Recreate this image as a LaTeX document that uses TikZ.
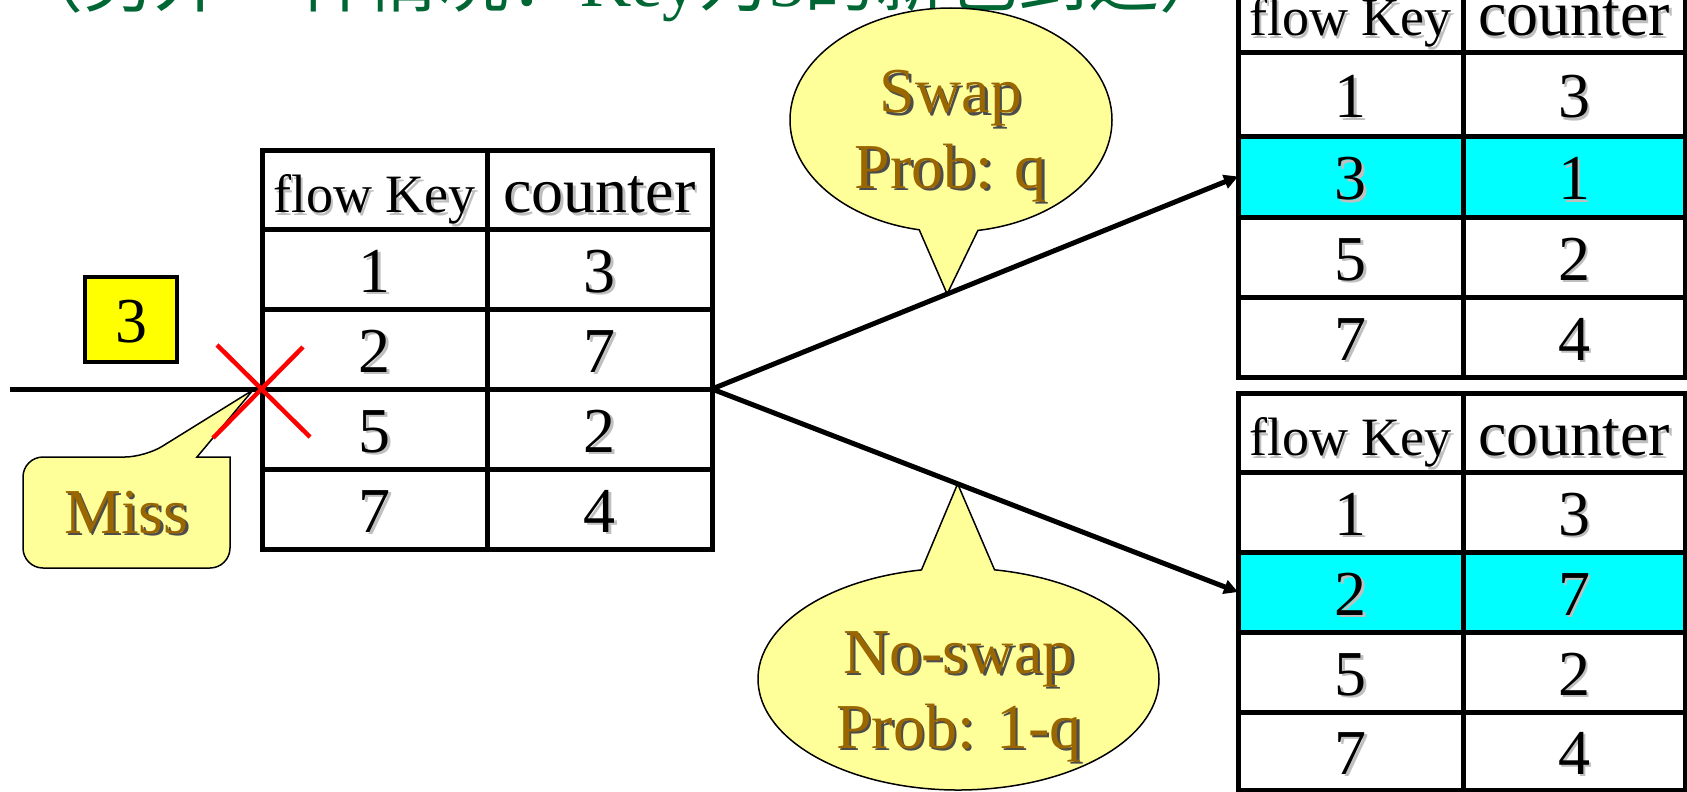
\documentclass[tikz,border=0pt]{standalone}
\usepackage{fontspec}
\setmainfont{Liberation Serif}
\newfontfamily\cjk{Noto Sans CJK SC}
\usetikzlibrary{shapes.callouts,calc,arrows.meta}

\definecolor{noteyellow}{HTML}{FFFF99}
\definecolor{notebrown}{HTML}{996600}
\definecolor{hitcyan}{HTML}{00FFFF}
\definecolor{titlegreen}{HTML}{006633}
\definecolor{keyyellow}{HTML}{FFFF00}

% text with a small drop shadow
\newcommand\dropsh[2]{\leavevmode\rlap{\kern2.5pt\raisebox{-2.5pt}{\textcolor{#1}{#2}}}#2}
\newcommand\tsh[1]{\dropsh{black!25}{#1}}
\newcommand\bsh[1]{\dropsh{black!70}{#1}}

\tikzset{
  cell/.style={draw=black, line width=5pt, inner sep=0pt, outer sep=0pt,
    text height=46pt, text depth=0pt, font=\fontsize{64}{72}\selectfont},
  hit/.style={fill=hitcyan},
  plain/.style={fill=white},
  keyhdr/.style={font=\fontsize{54}{60}\selectfont},
  bubble/.style={fill=noteyellow, draw=black, line width=1.5pt},
  notetext/.style={text=notebrown, font=\fontsize{64}{75}\selectfont, inner sep=0pt, anchor=base},
  flow/.style={line width=5pt, -{Triangle[length=14pt,width=14pt]}},
  cross/.style={draw=red, line width=4.5pt},
}

\begin{document}
\begin{tikzpicture}[x=1pt, y=-1pt]
\useasboundingbox (0,0) rectangle (1687,792);

% heading (runs off the top edge)
\node[anchor=base west, text=titlegreen, inner sep=0pt, font=\fontsize{71}{75}\selectfont]
  (title) at (12,7) {{\cjk （另外一种情况：}Key{\cjk 为}3{\cjk 的新包到达）}};

% ---- table before the update ----
\node[cell,plain,keyhdr,minimum width=225pt,minimum height=79pt] (L-0-1) at (374.5,189.5) {\tsh{flow Key}};
\node[cell,plain,minimum width=225pt,minimum height=79pt] (L-0-2) at (599.5,189.5) {\tsh{counter}};
\foreach \r/\ya/\yb/\a/\b/\st in {1/229/309/1/3/plain, 2/309/389/2/7/plain, 3/389/469/5/2/plain, 4/469/549/7/4/plain}{
  \pgfmathsetmacro\cy{(\ya+\yb)/2}
  \pgfmathsetmacro\hh{\yb-\ya}
  \node[cell,\st,minimum width=225pt,minimum height=\hh pt] (L-\r-1) at (374.5,\cy) {\tsh{\a}};
  \node[cell,\st,minimum width=225pt,minimum height=\hh pt] (L-\r-2) at (599.5,\cy) {\tsh{\b}};
}

% ---- table after a swap ----
\node[cell,plain,keyhdr,minimum width=225pt,minimum height=80pt] (TR-0-1) at (1350.5,13) {\tsh{flow Key}};
\node[cell,plain,minimum width=222pt,minimum height=80pt] (TR-0-2) at (1574,13) {\tsh{counter}};
\foreach \r/\ya/\yb/\a/\b/\st in {1/53/136/1/3/plain, 2/136/217/3/1/hit, 3/217/297/5/2/plain, 4/297/377/7/4/plain}{
  \pgfmathsetmacro\cy{(\ya+\yb)/2}
  \pgfmathsetmacro\hh{\yb-\ya}
  \node[cell,\st,minimum width=225pt,minimum height=\hh pt] (TR-\r-1) at (1350.5,\cy) {\tsh{\a}};
  \node[cell,\st,minimum width=222pt,minimum height=\hh pt] (TR-\r-2) at (1574,\cy) {\tsh{\b}};
}

% ---- table without a swap ----
\node[cell,plain,keyhdr,minimum width=225pt,minimum height=79pt] (BR-0-1) at (1350.5,432.5) {\tsh{flow Key}};
\node[cell,plain,minimum width=222pt,minimum height=79pt] (BR-0-2) at (1574,432.5) {\tsh{counter}};
\foreach \r/\ya/\yb/\a/\b/\st in {1/472/552/1/3/plain, 2/552/632/2/7/hit, 3/632/712/5/2/plain, 4/712/790/7/4/plain}{
  \pgfmathsetmacro\cy{(\ya+\yb)/2}
  \pgfmathsetmacro\hh{\yb-\ya}
  \node[cell,\st,minimum width=225pt,minimum height=\hh pt] (BR-\r-1) at (1350.5,\cy) {\tsh{\a}};
  \node[cell,\st,minimum width=222pt,minimum height=\hh pt] (BR-\r-2) at (1574,\cy) {\tsh{\b}};
}

% ---- incoming packet ----
\node[draw=black, line width=4.5pt, fill=keyyellow, minimum width=92pt, minimum height=85pt,
  inner sep=0pt, text height=46pt, text depth=0pt, font=\fontsize{64}{72}\selectfont] (pkt) at (131,319.5) {3};
\coordinate (src) at (10,389);
\coordinate (missat) at (L-2-1.south west);
\draw[line width=5pt] (src) -- (missat);

% miss note
\coordinate (misstip) at ($(missat)+(-9,1)$);
\draw[bubble] (23,512) [rounded corners=20pt] -- (23,457) -- (145,457) [sharp corners]
  -- (misstip) -- (197,457) -- (230,457) [rounded corners=20pt] -- (230,568) -- (23,568) -- cycle;
\node[notetext] (misslbl) at (126.5,533) {\bsh{Miss}};

% red cross at the miss
\draw[cross] ($(missat)+(-45,-44)$) -- ($(missat)+(48,48)$);
\draw[cross] ($(missat)+(41,-42)$) -- ($(missat)+(-49,49)$);

% ---- the two outcomes ----
\coordinate (split) at (L-2-2.south east);
\coordinate (swaptip) at ($(split)!0.447!(TR-2-1.west)$);
\coordinate (keeptip) at ($(split)!0.467!(BR-2-1.west)$);

\node[ellipse callout, bubble, minimum width=322pt, minimum height=224pt, inner sep=0pt,
  callout absolute pointer={(swaptip)}, callout pointer arc=21] (swapbub) at (951,120) {};
\node[notetext] (swaplbl) at (951,113) {\bsh{Swap}};
\node[notetext] (swapprob) at (951,188) {\bsh{Prob: q}};

\node[ellipse callout, bubble, minimum width=401pt, minimum height=222pt, inner sep=0pt,
  callout absolute pointer={(keeptip)}, callout pointer arc=21] (keepbub) at (958.5,679) {};
\node[notetext] (keeplbl) at (959,673) {\bsh{No-swap}};
\node[notetext] (keepprob) at (959,748) {\bsh{Prob: 1-q}};

\draw[flow] (split) -- (TR-2-1.west);
\draw[flow] (split) -- (BR-2-1.west);
\end{tikzpicture}
\end{document}
